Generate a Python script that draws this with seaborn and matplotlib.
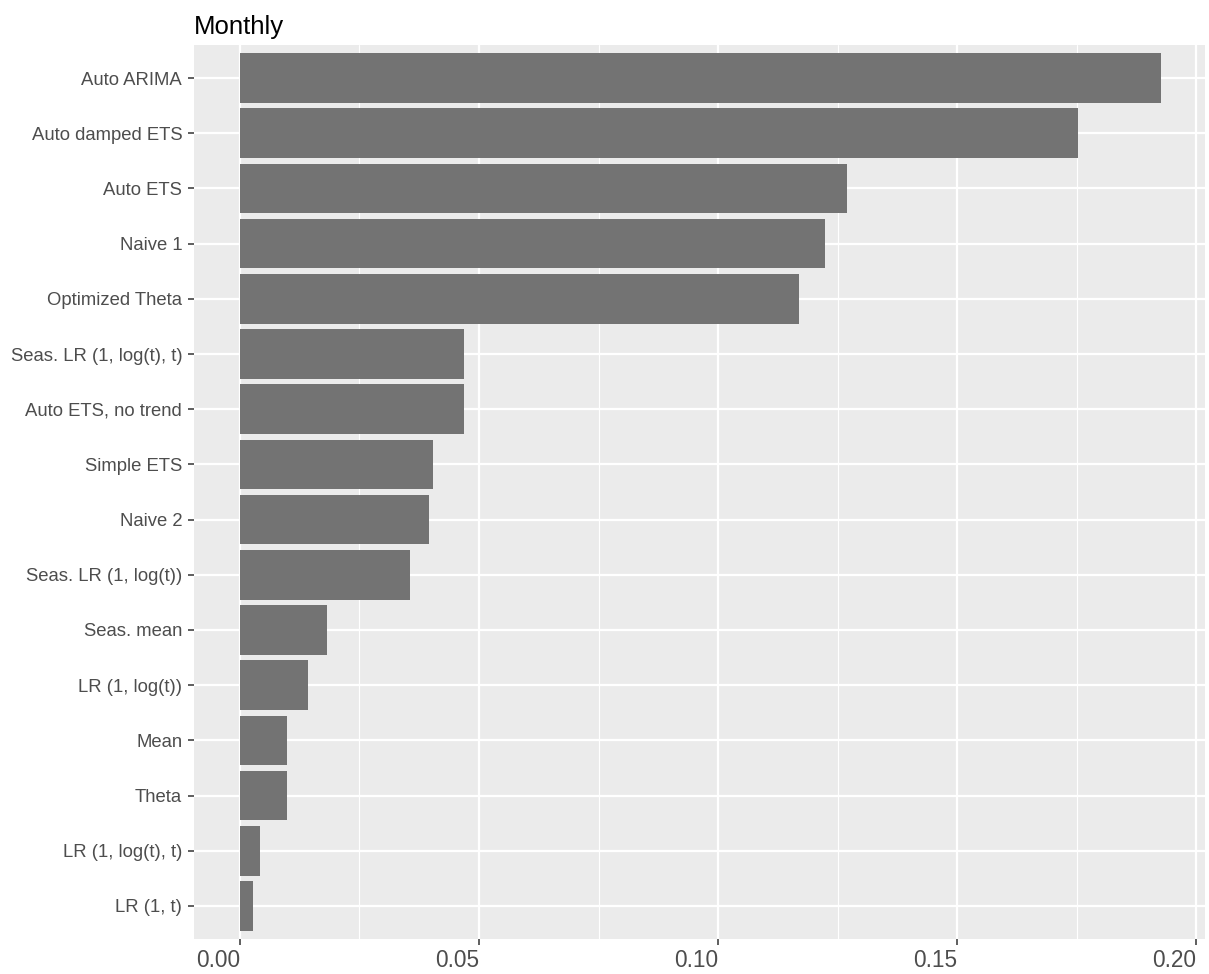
import matplotlib
matplotlib.use('Agg')
import pandas as pd
import seaborn as sns
import matplotlib.pyplot as plt
from matplotlib.ticker import MultipleLocator

# Data
methods = ['Auto ARIMA', 'Auto damped ETS', 'Auto ETS', 'Naive 1', 'Optimized Theta',
           'Seas. LR (1, log(t), t)', 'Auto ETS, no trend', 'Simple ETS', 'Naive 2',
           'Seas. LR (1, log(t))', 'Seas. mean', 'LR (1, log(t))', 'Mean', 'Theta',
           'LR (1, log(t), t)', 'LR (1, t)']
values = [0.1925, 0.1753, 0.1270, 0.1224, 0.1170,
          0.0468, 0.0468, 0.0404, 0.0395,
          0.0356, 0.0182, 0.0142, 0.0098, 0.0098,
          0.0042, 0.0027]
xticks = [0, 0.05, 0.10, 0.15, 0.20]
xticklabels = ['0.00', '0.05', '0.10', '0.15', '0.20']

df = pd.DataFrame({'method': methods, 'value': values})

sns.set_style('darkgrid', {'axes.facecolor': '#EBEBEB', 'grid.color': 'white'})
plt.rcParams['font.family'] = ['Liberation Sans', 'DejaVu Sans']

fig = plt.figure(figsize=(12.09, 9.74), dpi=100)
ax = fig.add_axes([194 / 1209, 1 - 939 / 974, (1205 - 194) / 1209, (939 - 45) / 974])

sns.barplot(data=df, x='value', y='method', orient='h', color='#737373',
            saturation=1, width=0.9, linewidth=0, edgecolor='none', ax=ax, zorder=3)

# ggplot-like grid: major + minor on x, major on y
ax.xaxis.set_major_locator(MultipleLocator(0.05))
ax.xaxis.set_minor_locator(MultipleLocator(0.025))
ax.grid(which='major', color='white', linewidth=1.6, zorder=0)
ax.grid(which='minor', axis='x', color='white', linewidth=0.8, zorder=0)
ax.set_axisbelow(True)

ax.set_xlim(-0.0096, 0.2018)
ax.set_ylim(len(methods) - 0.4, -0.6)
for s in ax.spines.values():
    s.set_visible(False)

ax.set_xticks(xticks)
ax.set_xticklabels(xticklabels, ha='right')
ax.tick_params(axis='x', which='major', bottom=True, length=4, width=1.1, color='#333333',
               labelsize=16.3, labelcolor='#4D4D4D', pad=3)
ax.tick_params(axis='x', which='minor', length=0)
ax.tick_params(axis='y', left=True, length=4, width=1.1, color='#333333',
               labelsize=13.3, labelcolor='#4D4D4D', pad=4.5)
ax.set_xlabel('')
ax.set_ylabel('')
ax.set_title('Monthly', loc='left', fontsize=18.5, color='black', pad=8)

fig.savefig('out.png', dpi=100)
